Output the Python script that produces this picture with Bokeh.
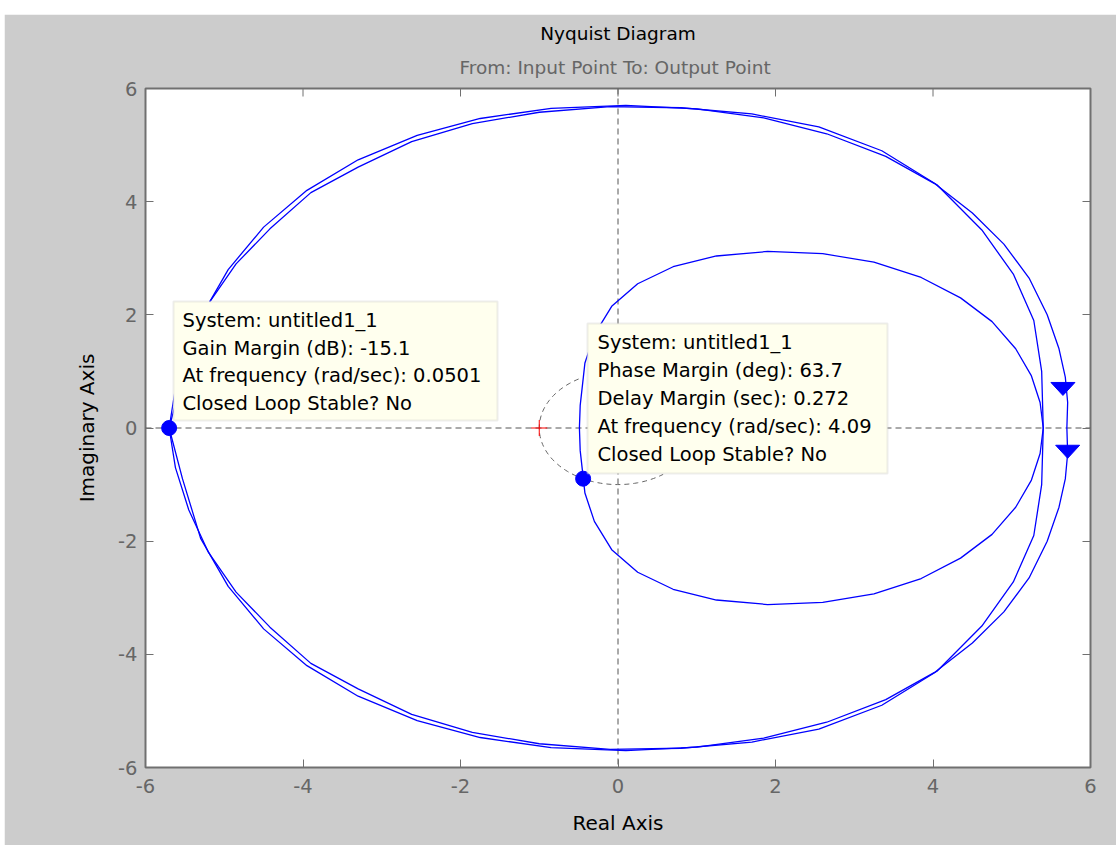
import numpy as np
from bokeh.plotting import figure
from bokeh.layouts import column, row
from bokeh.models import (Range1d, LinearAxis, FixedTicker, Span, BoxAnnotation, Label,
                          Title, Spacer)
from bokeh.embed import file_html
from bokeh.resources import INLINE

# ---------------- data ----------------
# positive-frequency branch of the Nyquist curve (real part, imaginary part)
pos_re = [5.70, 5.71, 5.68, 5.60, 5.45, 5.22, 4.90, 4.50, 4.02, 3.40, 2.65, 1.85, 1.00, 0.10,
          -0.85, -1.75, -2.55, -3.30, -3.95, -4.50, -4.95, -5.30, -5.53, -5.70,
          -5.62, -5.45, -5.20, -4.85, -4.42, -3.90, -3.30, -2.62, -1.85, -1.00, -0.10,
          0.80, 1.70, 2.55, 3.35, 4.05, 4.62, 5.02, 5.28, 5.38, 5.40, 5.36,
          5.25, 5.05, 4.75, 4.35, 3.85, 3.25, 2.60, 1.90, 1.25, 0.70, 0.25, -0.08,
          -0.30, -0.42, -0.44, -0.48, -0.49]
pos_im = [0.00, -0.45, -0.90, -1.40, -2.00, -2.65, -3.25, -3.80, -4.32, -4.80, -5.20, -5.48, -5.64, -5.70,
          -5.65, -5.47, -5.17, -4.74, -4.20, -3.55, -2.80, -1.95, -0.90, 0.00,
          0.70, 1.45, 2.20, 2.90, 3.52, 4.16, 4.61, 5.06, 5.38, 5.58, 5.68,
          5.66, 5.55, 5.32, 4.90, 4.30, 3.50, 2.72, 1.90, 1.00, 0.00, -0.45,
          -0.92, -1.40, -1.88, -2.30, -2.66, -2.93, -3.08, -3.12, -3.04, -2.85, -2.55, -2.15,
          -1.65, -1.15, -0.90, -0.40, 0.00]
# negative-frequency branch: mirror image of the positive one
neg_re = pos_re[::-1]
neg_im = [-v for v in pos_im[::-1]]

gm_re, gm_im = [-5.70], [0.0]          # gain margin point
pm_re, pm_im = [-0.443], [-0.896]      # phase margin point
crit_re, crit_im = [-1.0], [0.0]       # critical point
arrow_re = [5.65, 5.71]                # direction arrows (centres)
arrow_im = [0.69, -0.42]

ticks = [-6, -4, -2, 0, 2, 4, 6]
tick_labels = ["-6", "-4", "-2", "0", "2", "4", "6"]

title_text = "Nyquist Diagram"
subtitle_text = "From: Input Point  To: Output Point"
gm_tip = ["System: untitled1_1", "Gain Margin (dB): -15.1",
          "At frequency (rad/sec): 0.0501", "Closed Loop Stable? No"]
pm_tip = ["System: untitled1_1", "Phase Margin (deg): 63.7", "Delay Margin (sec): 0.272",
          "At frequency (rad/sec): 4.09", "Closed Loop Stable? No"]

# ---------------- styling ----------------
FONT = "DejaVu Sans"
BLUE = "#0000ff"
AX = "#707070"
GRAYTXT = "#666666"

W, H = 1112, 831
FL, FT, FR, FB = 141, 74, 26, 78   # borders around the axes frame
FW = W - FL - FR
FH = H - FT - FB

p = figure(width=W, height=H, x_range=Range1d(-6, 6), y_range=Range1d(-6, 6),
           output_backend="svg", toolbar_location=None,
           min_border_left=FL, min_border_right=FR, min_border_top=FT, min_border_bottom=FB,
           border_fill_color="#cccccc", background_fill_color="white",
           outline_line_color=AX, outline_line_width=2)
p.grid.visible = False

def style_axis(ax, labels=True):
    ax.ticker = FixedTicker(ticks=ticks)
    ax.minor_tick_line_color = None
    ax.major_tick_in = 8
    ax.major_tick_out = 0
    ax.major_tick_line_color = AX
    ax.axis_line_color = None
    if labels:
        ax.major_label_overrides = dict(zip(ticks, tick_labels))
        ax.major_label_text_font = FONT
        ax.major_label_text_font_size = "19.5px"
        ax.major_label_text_color = GRAYTXT
        ax.axis_label_text_font = FONT
        ax.axis_label_text_font_size = "20px"
        ax.axis_label_text_font_style = "normal"
        ax.axis_label_text_color = "#000000"
    else:
        ax.major_label_text_color = None

xa = p.xaxis[0]
ya = p.yaxis[0]
style_axis(xa)
style_axis(ya)
xa.axis_label = "Real Axis"
ya.axis_label = "Imaginary Axis"
xa.major_label_standoff = 11
xa.axis_label_standoff = 15
ya.major_label_standoff = 8
ya.axis_label_standoff = 16

ra = LinearAxis()
style_axis(ra, labels=False)
p.add_layout(ra, "right")

px_per_x = FW / 12.0
px_per_y = FH / 12.0

# top-edge inward ticks
tick_len = 8.0 / px_per_y
p.segment(x0=ticks, y0=[6] * len(ticks), x1=ticks, y1=[6 - tick_len] * len(ticks),
          line_color=AX, line_width=1)

# zero lines
p.add_layout(Span(location=0, dimension="width", line_color="#555555", line_dash="6 4",
                  line_width=1, level="underlay"))
p.add_layout(Span(location=0, dimension="height", line_color="#555555", line_dash="6 4",
                  line_width=1, level="underlay"))

# unit circle arc near the phase margin point
th = np.radians(np.linspace(120, 305, 90))
p.line(np.cos(th), np.sin(th), line_color="#666666", line_dash="5 4", line_width=1)

# Nyquist branches
p.line(pos_re, pos_im, line_color=BLUE, line_width=1.3)
p.line(neg_re, neg_im, line_color=BLUE, line_width=1.3)

# direction arrows (flat triangles, sized in pixels)
hw = 12.0 / px_per_x
hh = 6.5 / px_per_y
xs = [[x - hw, x + hw, x] for x in arrow_re]
ys = [[y + hh, y + hh, y - hh] for y in arrow_im]
p.patches(xs, ys, fill_color=BLUE, line_color=BLUE, line_width=1)

# margin markers and critical point
p.scatter(gm_re, gm_im, size=15, color=BLUE)
p.scatter(pm_re, pm_im, size=15, color=BLUE)
p.scatter(crit_re, crit_im, marker="cross", size=16, line_color="#ff0000", line_width=1)

# data tips (positions given in page pixels of the reference)
def to_x(px):
    return (px - 617.5) / px_per_x

def to_y(py):
    return (427.5 - py) / px_per_y

p.add_layout(BoxAnnotation(left=to_x(173), right=to_x(497), top=to_y(301), bottom=to_y(420),
                           fill_color="#ffffee", fill_alpha=1.0, line_color="#c4c4c4",
                           line_width=2, level="annotation"))
p.add_layout(BoxAnnotation(left=to_x(587), right=to_x(887), top=to_y(323), bottom=to_y(473),
                           fill_color="#ffffee", fill_alpha=1.0, line_color="#c4c4c4",
                           line_width=2, level="annotation"))
for i, t in enumerate(gm_tip):
    p.add_layout(Label(x=to_x(182), y=to_y(320 + 27.7 * i), text=t, text_font=FONT,
                       text_font_size="19.5px", text_color="#000000",
                       text_baseline="middle", text_align="left"))
for i, t in enumerate(pm_tip):
    p.add_layout(Label(x=to_x(597), y=to_y(342 + 28.0 * i), text=t, text_font=FONT,
                       text_font_size="19.5px", text_color="#000000",
                       text_baseline="middle", text_align="left"))

# titles (first added sits closest to the axes)
p.add_layout(Title(text=subtitle_text, align="center", text_font=FONT,
                   text_font_size="18.5px", text_font_style="normal",
                   text_color=GRAYTXT, standoff=22), "above")
p.add_layout(Title(text=title_text, align="center", text_font=FONT,
                   text_font_size="18.5px", text_font_style="normal",
                   text_color="#000000", standoff=0), "above")

page = column(Spacer(height=14, width=W + 4),
              row(Spacer(width=4, height=H), p, spacing=0), spacing=0)

open("out.html", "w").write(file_html(page, INLINE))
